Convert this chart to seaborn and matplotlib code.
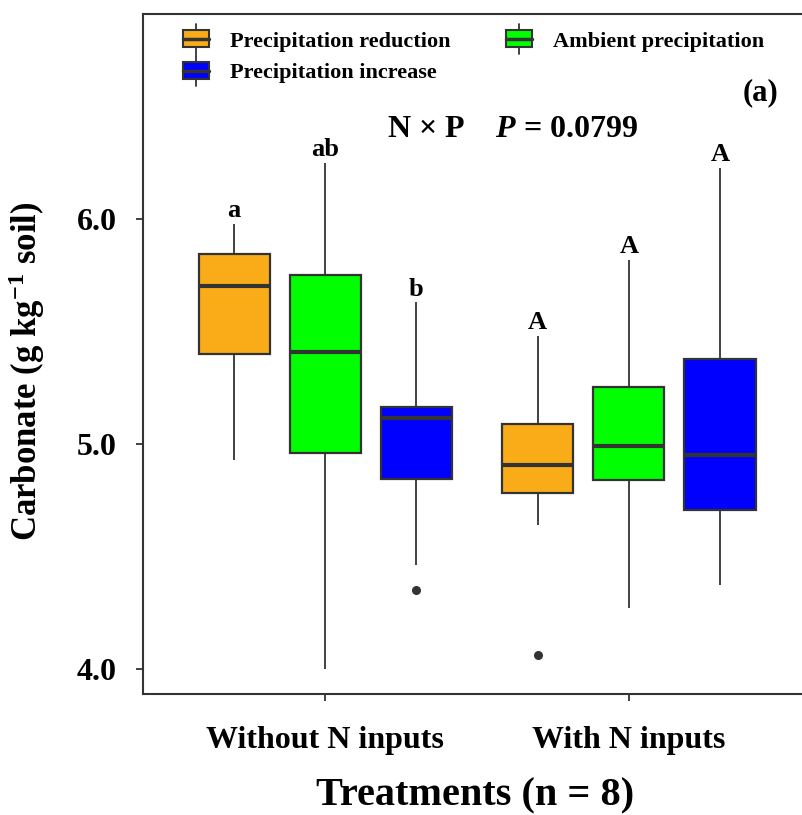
"""Boxplot of soil carbonate by N input and precipitation treatment."""

import matplotlib

matplotlib.use("Agg")

import matplotlib.pyplot as plt
import pandas as pd
import seaborn as sns
from matplotlib.legend_handler import HandlerBase
from matplotlib.lines import Line2D
from matplotlib.patches import Patch, Rectangle

# Data (8 plots per treatment)
groups = ["Without N inputs", "With N inputs"]
precip_levels = ["Precipitation reduction", "Ambient precipitation", "Precipitation increase"]
colors = ["#FAAC18", "#00FF00", "#0000FF"]

without_n_reduction = [4.93, 5.35, 5.42, 5.66, 5.75, 5.82, 5.93, 5.98]
without_n_ambient = [4.00, 4.90, 4.98, 5.30, 5.52, 5.70, 5.90, 6.25]
without_n_increase = [4.35, 4.46, 4.97, 5.10, 5.135, 5.14, 5.24, 5.63]
with_n_reduction = [4.06, 4.64, 4.83, 4.86, 4.95, 5.05, 5.21, 5.48]
with_n_ambient = [4.27, 4.81, 4.85, 4.95, 5.03, 5.20, 5.42, 5.82]
with_n_increase = [4.37, 4.60, 4.74, 4.90, 5.00, 5.30, 5.61, 6.23]

sig_letters = ["a", "ab", "b", "A", "A", "A"]
yticks = [4.0, 5.0, 6.0]

LINE = "#333333"
FONT = "Liberation Serif"

series = {
    (groups[0], precip_levels[0]): without_n_reduction,
    (groups[0], precip_levels[1]): without_n_ambient,
    (groups[0], precip_levels[2]): without_n_increase,
    (groups[1], precip_levels[0]): with_n_reduction,
    (groups[1], precip_levels[1]): with_n_ambient,
    (groups[1], precip_levels[2]): with_n_increase,
}
rows = []
for (grp, lvl), vals in series.items():
    for v in vals:
        rows.append({"treatment": grp, "precip": lvl, "carbonate": v})
df = pd.DataFrame(rows)


class BoxHandler(HandlerBase):
    """Draw a small boxplot glyph as the legend key."""

    def create_artists(self, legend, orig_handle, xdescent, ydescent,
                       width, height, fontsize, trans):
        x0, y0 = -xdescent, -ydescent
        cx = x0 + width / 2
        whisker = Line2D([cx, cx], [y0 - 0.4 * height, y0 + 1.4 * height],
                         color=LINE, lw=1.3, transform=trans)
        box = Rectangle((x0, y0), width, height,
                        facecolor=orig_handle.get_facecolor(),
                        edgecolor=LINE, lw=1.5, transform=trans)
        mid = y0 + height / 2
        median = Line2D([x0, x0 + width], [mid, mid], color=LINE, lw=2.5,
                        transform=trans)
        return [whisker, box, median]


sns.set_style("ticks")
plt.rcParams["font.family"] = [FONT, "DejaVu Serif"]
plt.rcParams["font.weight"] = "bold"
plt.rcParams["text.color"] = "black"
plt.rcParams["axes.labelcolor"] = "black"
plt.rcParams["mathtext.fontset"] = "custom"
plt.rcParams["mathtext.rm"] = f"{FONT}:bold"
plt.rcParams["mathtext.bf"] = f"{FONT}:bold"
plt.rcParams["mathtext.it"] = f"{FONT}:italic:bold"

fig = plt.figure(figsize=(8.02, 8.15), dpi=100)
ax = fig.add_axes([0.1783, 0.1485, 0.8217, 0.8343])

sns.boxplot(
    data=df,
    x="treatment",
    y="carbonate",
    hue="precip",
    order=groups,
    hue_order=precip_levels,
    palette=colors,
    saturation=1,
    width=0.9,
    gap=0.22,
    linecolor=LINE,
    linewidth=1.6,
    showcaps=False,
    medianprops={"linewidth": 3, "color": LINE},
    whiskerprops={"linewidth": 1.3, "color": LINE},
    flierprops={"marker": "o", "markersize": 5.5, "markerfacecolor": LINE,
                "markeredgecolor": LINE},
    legend=False,
    ax=ax,
)

# Significance letters above each box
offsets = [-0.3, 0.0, 0.3]
k = 0
for gi, grp in enumerate(groups):
    for li, lvl in enumerate(precip_levels):
        top = max(series[(grp, lvl)])
        ax.text(gi + offsets[li], top + 0.03, sig_letters[k], ha="center",
                va="baseline", fontsize=19, fontweight="bold", color="black")
        k += 1

ax.text(0.618, 6.366, r"N × P    $\mathit{P}$ = 0.0799", ha="center",
        va="baseline", fontsize=23, fontweight="bold", color="black")
ax.text(0.9636, 0.8735, "(a)", transform=ax.transAxes, ha="right",
        va="baseline", fontsize=22, fontweight="bold", color="black")

ax.set_xlim(-0.6, 1.57)
ax.set_ylim(3.887, 6.914)
ax.set_yticks(yticks)
ax.set_yticklabels([f"{t:.1f}" for t in yticks])
ax.tick_params(axis="both", length=5, width=1.3, color=LINE, labelsize=23,
               labelcolor="black")
ax.tick_params(axis="y", pad=14)
ax.tick_params(axis="x", pad=18)
for side in ["left", "bottom", "top"]:
    ax.spines[side].set_color(LINE)
    ax.spines[side].set_linewidth(1.5)
    ax.spines[side].set_visible(True)
ax.spines["right"].set_visible(False)

ax.set_xlabel("Treatments (n = 8)", fontsize=29, fontweight="bold")
ax.set_ylabel(r"Carbonate (g kg$^{-1}$ soil)", fontsize=25, fontweight="bold")
ax.xaxis.set_label_coords(0.592, 0.0466, transform=fig.transFigure)
ax.xaxis.label.set_va("top")
ax.yaxis.set_label_coords(0.033, 0.545, transform=fig.transFigure)
ax.yaxis.label.set_va("center")

# Legend: two columns, reduction/increase on the left, ambient on the right
legend_order = [0, 2, 1]
handles = [Patch(facecolor=colors[i], edgecolor=LINE) for i in legend_order]
labels = [precip_levels[i] for i in legend_order]
leg = ax.legend(
    handles,
    labels,
    handler_map={Patch: BoxHandler()},
    loc="upper left",
    bbox_to_anchor=(0.06, 0.976),
    ncol=2,
    frameon=False,
    handlelength=1.17,
    handleheight=0.8,
    handletextpad=0.95,
    columnspacing=2.5,
    labelspacing=0.48,
    borderpad=0,
    borderaxespad=0,
    prop={"family": FONT, "weight": "bold", "size": 16},
)
for txt in leg.get_texts():
    txt.set_color("black")

fig.savefig("out.png", dpi=100)
